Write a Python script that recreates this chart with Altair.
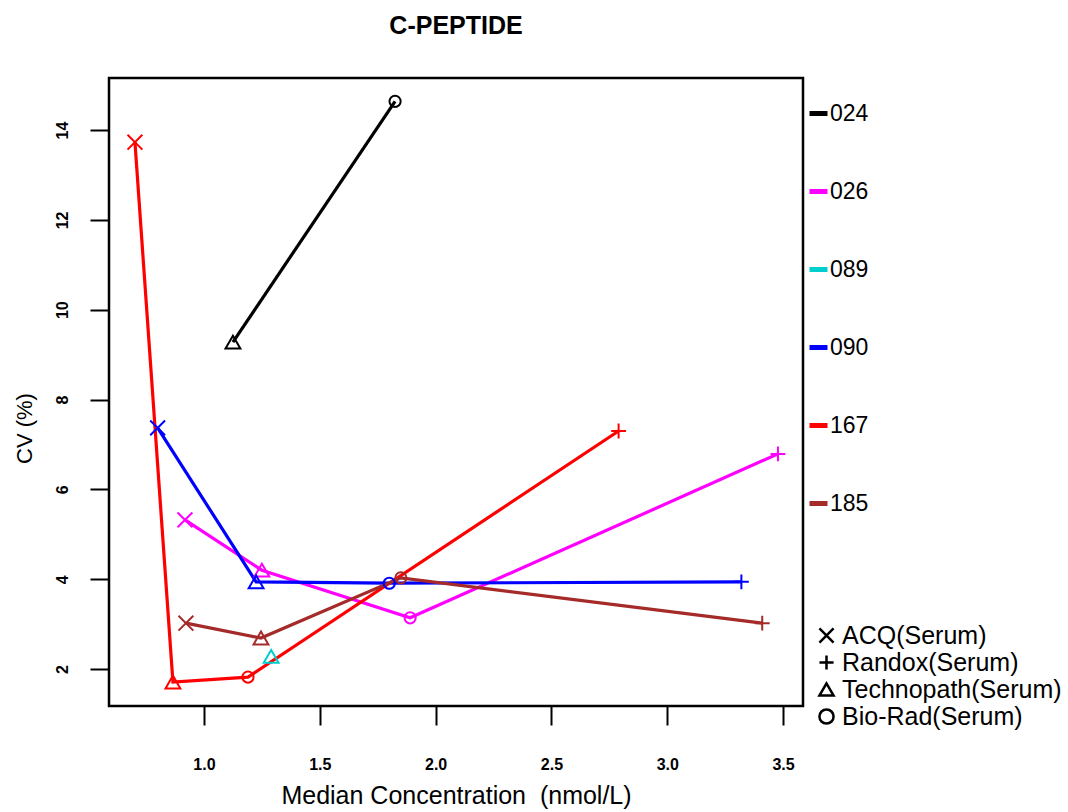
import altair as alt
import pandas as pd

labs = ["024", "024",
        "026", "026", "026", "026",
        "089",
        "090", "090", "090", "090",
        "167", "167", "167", "167",
        "185", "185", "185", "185"]
methods = ["Technopath(Serum)", "Bio-Rad(Serum)",
           "ACQ(Serum)", "Technopath(Serum)", "Bio-Rad(Serum)", "Randox(Serum)",
           "Technopath(Serum)",
           "ACQ(Serum)", "Technopath(Serum)", "Bio-Rad(Serum)", "Randox(Serum)",
           "ACQ(Serum)", "Technopath(Serum)", "Bio-Rad(Serum)", "Randox(Serum)",
           "ACQ(Serum)", "Technopath(Serum)", "Bio-Rad(Serum)", "Randox(Serum)"]
conc = [1.125, 1.825,
        0.918, 1.25, 1.89, 3.478,
        1.29,
        0.80, 1.225, 1.80, 3.32,
        0.702, 0.866, 1.19, 2.79,
        0.922, 1.246, 1.85, 3.41]
cv = [9.28, 14.64,
      5.32, 4.20, 3.14, 6.79,
      2.28,
      7.37, 3.94, 3.91, 3.94,
      13.73, 1.71, 1.82, 7.30,
      3.02, 2.69, 4.03, 3.02]

lab_order = ["024", "026", "089", "090", "167", "185"]
lab_colors = ["#000000", "#FF00FF", "#00CDCD", "#0000FF", "#FF0000", "#A52A2A"]
method_order = ["ACQ(Serum)", "Randox(Serum)", "Technopath(Serum)", "Bio-Rad(Serum)"]
method_shapes = ["M-1,-1L1,1M-1,1L1,-1", "M-1,0L1,0M0,-1L0,1", "triangle-up", "circle"]
x_ticks = [1.0, 1.5, 2.0, 2.5, 3.0, 3.5]
y_ticks = [2, 4, 6, 8, 10, 12, 14]

df = pd.DataFrame({"lab": labs, "method": methods, "conc": conc, "cv": cv})

x_enc = alt.X("conc:Q", scale=alt.Scale(domain=[0.59, 3.586], nice=False, zero=False),
              axis=alt.Axis(values=x_ticks, format=".1f",
                            title="Median Concentration\u00a0\u00a0(nmol/L)",
                            tickSize=19, labelPadding=31, titlePadding=11, titleFontSize=25))
y_enc = alt.Y("cv:Q", scale=alt.Scale(domain=[1.176, 15.16], nice=False, zero=False),
              axis=alt.Axis(values=y_ticks, format="d", title="CV (%)", labelAngle=270,
                            labelAlign="center", labelBaseline="bottom",
                            tickSize=19, labelPadding=20,
                            titleAngle=270, titleAlign="center", titleBaseline="middle",
                            titleX=-85, titleY=350, titleFontSize=22))

color_scale = alt.Scale(domain=lab_order, range=lab_colors)

lines = alt.Chart(df).mark_line(strokeWidth=3.2).encode(
    x=x_enc, y=y_enc,
    color=alt.Color("lab:N", scale=color_scale,
                    legend=alt.Legend(title=None, orient="none", legendX=698, legendY=24,
                                      symbolType="stroke", symbolStrokeWidth=5, symbolSize=324,
                                      labelFontSize=23, labelOffset=0, rowPadding=54,
                                      padding=0, labelColor="black", labelLimit=0)),
    detail="lab:N",
)

points = alt.Chart(df).mark_point(filled=False, strokeWidth=2, opacity=1).encode(
    x=x_enc, y=y_enc,
    color=alt.Color("lab:N", scale=color_scale, legend=None),
    size=alt.condition("datum.method == 'Bio-Rad(Serum)'", alt.value(125), alt.value(220)),
    shape=alt.Shape("method:N", scale=alt.Scale(domain=method_order, range=method_shapes),
                    legend=alt.Legend(title=None, orient="none", legendX=705, legendY=545,
                                      symbolStrokeColor="black", symbolFillColor="transparent",
                                      symbolStrokeWidth=2.5, symbolSize=200,
                                      labelFontSize=25, labelOffset=3, rowPadding=1,
                                      padding=0, labelColor="black", labelLimit=0)),
)

chart = alt.layer(lines, points).properties(
    width=694, height=628,
    title=alt.TitleParams("C-PEPTIDE", fontSize=25, fontWeight="bold", offset=39,
                          anchor="middle", color="black"),
    autosize=alt.AutoSizeParams(type="none"),
    padding={"left": 109, "top": 78, "right": 265, "bottom": 106},
).configure(
    font="Liberation Sans",
).configure_view(
    stroke="black", strokeWidth=2.5,
).configure_axis(
    domain=False, grid=False, tickColor="black", tickWidth=2,
    labelFontSize=16, labelFontWeight="bold", labelColor="black",
    titleFontSize=22, titleFontWeight="normal", titleColor="black",
)

chart.save("out.html", embed_options={"renderer": "svg", "actions": False})
